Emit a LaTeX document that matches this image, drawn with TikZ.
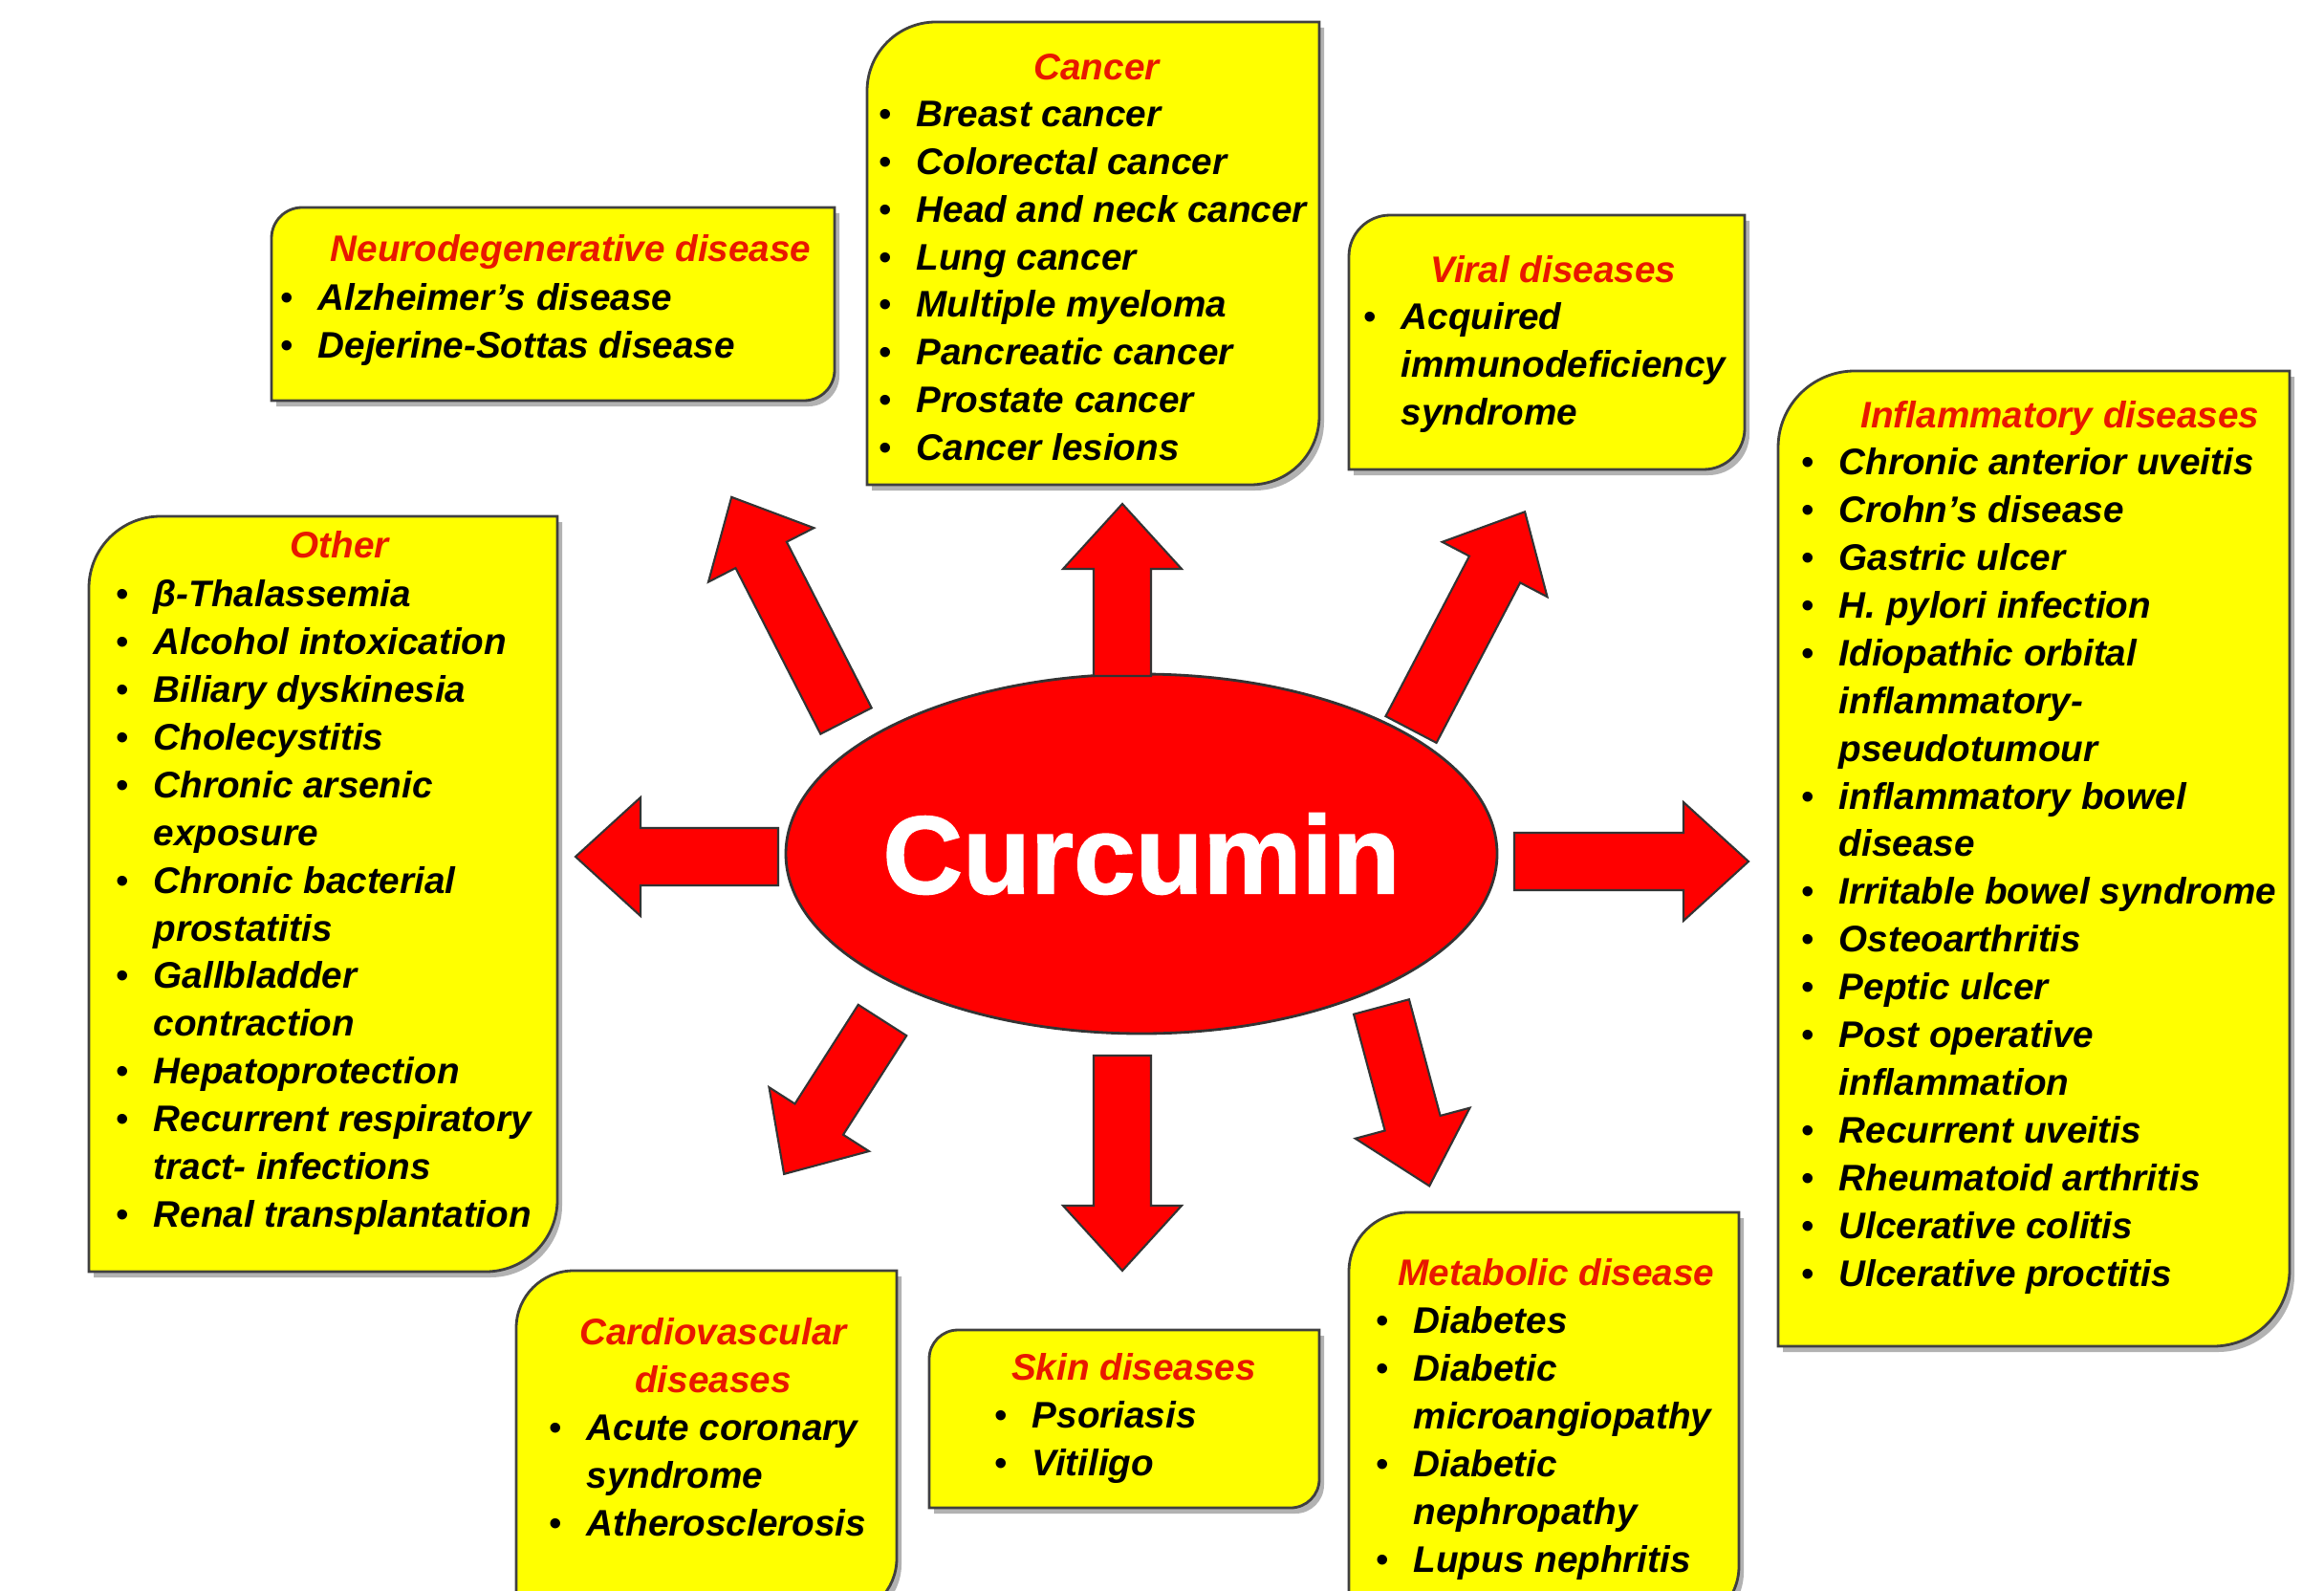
\documentclass[tikz,border=0pt]{standalone}
\usepackage{fontspec}
\setmainfont{Liberation Sans}
\newfontfamily\heavyfont{Liberation Sans}[BoldFeatures={FakeBold=1.3}]
\usetikzlibrary{shapes.geometric, positioning}

\definecolor{boxyellow}{RGB}{255,255,0}
\definecolor{ttlred}{RGB}{232,24,0}
\definecolor{arrred}{RGB}{255,0,0}

\newlength\bulindent
\setlength\bulindent{0.39cm}
\newcommand{\bul}{\makebox[\bulindent][l]{\mdseries\upshape\textbullet}}
\newcommand{\cnt}{\hspace*{\bulindent}}

% round-diagonal box: left, top, right, bottom, radius
\newcommand{\diagbox}[5]{%
  \fill[boxshadow] (#1+0.05,#2-#5-0.06) arc[start angle=180,end angle=90,radius=#5]
    -- (#3+0.05,#2-0.06) -- (#3+0.05,#4+#5-0.06) arc[start angle=0,end angle=-90,radius=#5]
    -- (#1+0.05,#4-0.06) -- cycle;
  \draw[boxline] (#1,#2-#5) arc[start angle=180,end angle=90,radius=#5]
    -- (#3,#2) -- (#3,#4+#5) arc[start angle=0,end angle=-90,radius=#5]
    -- (#1,#4) -- cycle;}

% block arrow: tail x, tail y, angle, length
\newcommand{\bigarrow}[4]{%
  \begin{scope}[shift={(#1,#2)},rotate=#3]
    \draw[redarrow] (0,-0.30) -- (#4-0.68,-0.30) -- (#4-0.68,-0.62) -- (#4,0)
      -- (#4-0.68,0.62) -- (#4-0.68,0.30) -- (0,0.30) -- cycle;
  \end{scope}}

\begin{document}
\begin{tikzpicture}[
  boxline/.style={draw=black!75, line width=0.8pt, fill=boxyellow},
  boxshadow/.style={fill=black!30},
  redarrow/.style={draw=black!80, line width=0.6pt, fill=arrred},
  ttl/.style={inner sep=0pt, text=ttlred, align=center,
              font=\fontsize{11}{14.2}\selectfont\bfseries\itshape},
  lst/.style={inner sep=0pt, anchor=north west, align=left,
              font=\fontsize{11}{14.2}\selectfont\bfseries\itshape},
]
\useasboundingbox (0,0) rectangle (24.31,-16.63);
\clip (0,0) rectangle (24.31,-16.63);

%% ---- centre ----
\node[ellipse, draw=black!80, line width=0.8pt, fill=arrred, text=white,
      minimum width=7.44cm, minimum height=3.76cm, inner sep=0pt,
      font=\fontsize{33}{36}\heavyfont\bfseries] (curcumin) at (11.94,-8.93)
      {\makebox[0pt]{Curcumin}};

%% ---- arrows ----
\bigarrow{11.74}{-7.07}{90}{1.80}
\bigarrow{8.85}{-7.54}{117.1}{2.63}
\bigarrow{14.76}{-7.63}{62.4}{2.57}
\bigarrow{8.14}{-8.96}{180}{2.12}
\bigarrow{15.84}{-9.01}{0}{2.45}
\bigarrow{9.23}{-10.67}{-122.6}{1.91}
\bigarrow{11.74}{-11.04}{-90}{2.25}
\bigarrow{14.45}{-10.53}{-75}{1.94}

%% ---- Neurodegenerative ----
\diagbox{2.84}{-2.17}{8.73}{-4.19}{0.32}
\node[ttl, anchor=base] (neuroT) at (5.97,-2.74) {Neurodegenerative disease};
\node[lst] (neuroL) at (2.93,-2.96) {\bul Alzheimer's disease\\ \bul Dejerine-Sottas disease};

%% ---- Cancer ----
\diagbox{9.07}{-0.23}{13.80}{-5.07}{0.72}
\node[ttl, anchor=base] (cancerT) at (11.47,-0.84) {Cancer};
\node[lst] (cancerL) at (9.19,-1.05) {\bul Breast cancer\\ \bul Colorectal cancer\\
  \bul Head and neck cancer\\ \bul Lung cancer\\ \bul Multiple myeloma\\
  \bul Pancreatic cancer\\ \bul Prostate cancer\\ \bul Cancer lesions};

%% ---- Viral ----
\diagbox{14.11}{-2.25}{18.25}{-4.91}{0.43}
\node[ttl, anchor=base] (viralT) at (16.25,-2.95) {Viral diseases};
\node[lst] (viralL) at (14.26,-3.16) {\bul Acquired\\ \cnt immunodeficiency\\ \cnt syndrome};

%% ---- Inflammatory ----
\diagbox{18.60}{-3.88}{23.95}{-14.08}{0.80}
\node[ttl, anchor=base] (inflT) at (21.55,-4.47) {Inflammatory diseases};
\node[lst] (inflL) at (18.84,-4.68) {\bul Chronic anterior uveitis\\ \bul Crohn's disease\\
  \bul Gastric ulcer\\ \bul H. pylori infection\\ \bul Idiopathic orbital\\
  \cnt inflammatory-\\ \cnt pseudotumour\\ \bul inflammatory bowel\\ \cnt disease\\
  \bul Irritable bowel syndrome\\ \bul Osteoarthritis\\ \bul Peptic ulcer\\
  \bul Post operative\\ \cnt inflammation\\ \bul Recurrent uveitis\\
  \bul Rheumatoid arthritis\\ \bul Ulcerative colitis\\ \bul Ulcerative proctitis};

%% ---- Other ----
\diagbox{0.93}{-5.40}{5.83}{-13.30}{0.75}
\node[ttl, anchor=base] (otherT) at (3.55,-5.83) {Other};
\node[lst] (otherL) at (1.21,-6.06) {\bul β-Thalassemia\\ \bul Alcohol intoxication\\
  \bul Biliary dyskinesia\\ \bul Cholecystitis\\ \bul Chronic arsenic\\ \cnt exposure\\
  \bul Chronic bacterial\\ \cnt prostatitis\\ \bul Gallbladder\\ \cnt contraction\\
  \bul Hepatoprotection\\ \bul Recurrent respiratory\\ \cnt tract- infections\\
  \bul Renal transplantation};

%% ---- Cardiovascular ----
\diagbox{5.40}{-13.29}{9.38}{-16.90}{0.60}
\node[ttl, anchor=north] (cardioT) at (7.46,-13.78) {Cardiovascular\\ diseases};
\node[lst] (cardioL) at (5.74,-14.79) {\bul Acute coronary\\ \cnt syndrome\\ \bul Atherosclerosis};

%% ---- Skin ----
\diagbox{9.72}{-13.91}{13.80}{-15.77}{0.30}
\node[ttl, anchor=base] (skinT) at (11.86,-14.43) {Skin diseases};
\node[lst] (skinL) at (10.40,-14.65) {\bul Psoriasis\\ \bul Vitiligo};

%% ---- Metabolic ----
\diagbox{14.11}{-12.68}{18.19}{-17.00}{0.62}
\node[ttl, anchor=base] (metaT) at (16.28,-13.44) {Metabolic disease};
\node[lst] (metaL) at (14.39,-13.66) {\bul Diabetes\\ \bul Diabetic\\ \cnt microangiopathy\\
  \bul Diabetic\\ \cnt nephropathy\\ \bul Lupus nephritis};

\end{tikzpicture}
\end{document}
